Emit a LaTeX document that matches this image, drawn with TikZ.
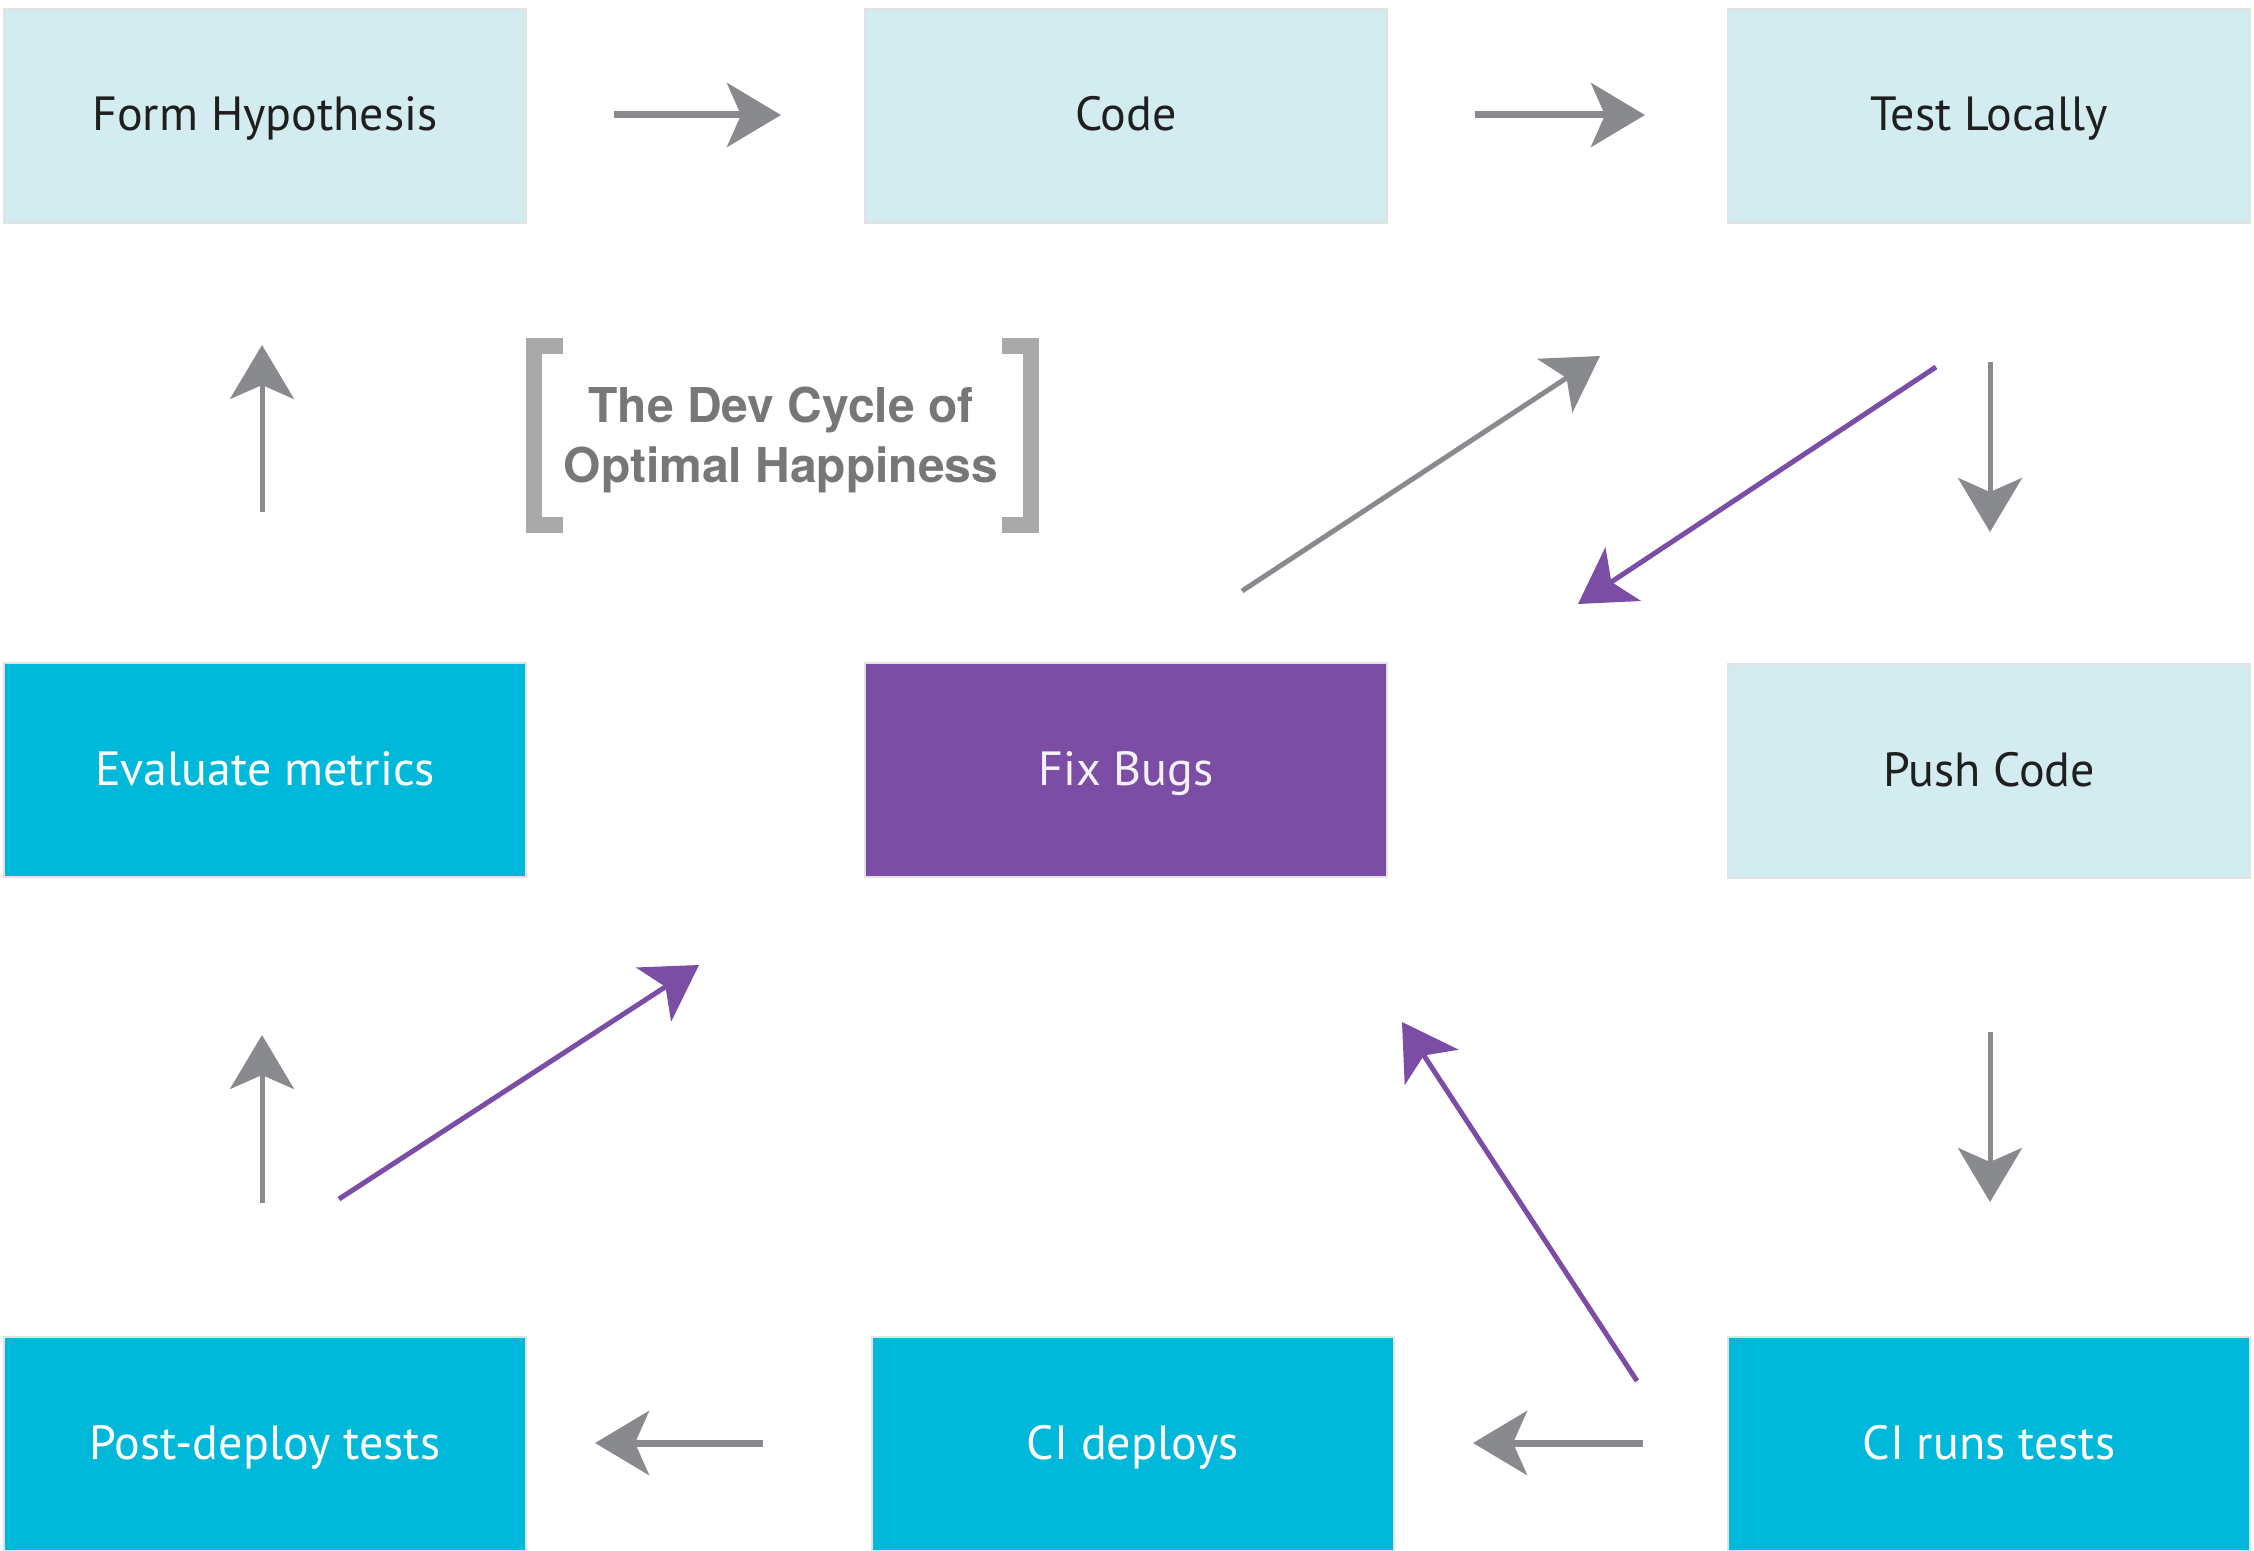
\documentclass[tikz,border=0pt]{standalone}
\usepackage{fontspec}
\setmainfont{PT Sans}
\newfontfamily\titlefont{TeX Gyre Heros}
\usetikzlibrary{arrows.meta}
\definecolor{lightfill}{HTML}{D2ECF0}
\definecolor{cyanfill}{HTML}{00B8DA}
\definecolor{purplefill}{HTML}{7B4DA4}
\definecolor{arrowgray}{HTML}{898A8D}
\definecolor{titlegray}{HTML}{777777}
\definecolor{bracketgray}{HTML}{A9A9A9}
\definecolor{edgegray}{HTML}{E2E2E2}
\tikzset{
  box/.style={rectangle, inner sep=0pt, minimum width=261pt, minimum height=107pt,
    text height=18pt, text depth=3pt,
    draw=edgegray, line width=1pt, font=\fontsize{24}{28}\selectfont},
  lightbox/.style={box, fill=lightfill, text=black!88},
  cyanbox/.style={box, fill=cyanfill, text=white},
  purplebox/.style={box, fill=purplefill, text=white!92!purplefill},
  tipshape/.style={-{Stealth[length=27pt,width=32pt,inset=7pt]}},
  harrow/.style={draw=arrowgray, line width=3.5pt, tipshape},
  varrow/.style={draw=arrowgray, line width=2.5pt, tipshape},
  darrow/.style={draw=arrowgray, line width=2.5pt, tipshape},
  parrow/.style={draw=purplefill, line width=2.5pt, tipshape},
  bracket/.style={draw=bracketgray, line width=8pt, miter limit=10},
  titletext/.style={align=center, text=titlegray,
    font=\titlefont\bfseries\fontsize{24}{30}\selectfont}
}
\begin{document}
\begin{tikzpicture}[x=0.5pt, y=-0.5pt]
\useasboundingbox (0,0) rectangle (2254,1551);
% boxes
\node[lightbox] (fh) at (265,116) {Form Hypothesis};
\node[lightbox] (code) at (1126,116) {Code};
\node[lightbox] (tl) at (1989,116) {Test Locally};
\node[cyanbox] (eval) at (265,770) {Evaluate metrics};
\node[purplebox] (fix) at (1126,770) {Fix Bugs};
\node[lightbox] (push) at (1989,771) {Push Code};
\node[cyanbox] (post) at (265,1444) {Post-deploy tests};
\node[cyanbox] (cid) at (1133,1444) {CI deploys};
\node[cyanbox] (cir) at (1989,1444) {CI runs tests};
% title
\node[titletext] (title) at (781,440) {The Dev Cycle of\\Optimal Happiness};
\draw[bracket] (563,346) -| (534,525) -- (563,525);
\draw[bracket] (1002,346) -| (1031,525) -- (1002,525);
% arrow end points
\coordinate (a1s) at (614,115);  \coordinate (a1e) at (781,115);
\coordinate (a2s) at (1475,115); \coordinate (a2e) at (1645,115);
\coordinate (a3s) at (1990,362); \coordinate (a3e) at (1990,532);
\coordinate (a4s) at (1990,1032); \coordinate (a4e) at (1990,1202);
\coordinate (a5s) at (1643,1443); \coordinate (a5e) at (1473,1443);
\coordinate (a6s) at (763,1443); \coordinate (a6e) at (595,1443);
\coordinate (a7s) at (262,1203); \coordinate (a7e) at (262,1035);
\coordinate (a8s) at (262,512); \coordinate (a8e) at (262,345);
\coordinate (p1s) at (339,1199); \coordinate (p1e) at (699,965);
\coordinate (p2s) at (1637,1381); \coordinate (p2e) at (1402,1022);
\coordinate (p3s) at (1936,367); \coordinate (p3e) at (1578,604);
\coordinate (g1s) at (1242,591); \coordinate (g1e) at (1600,356);
% arrows
\draw[harrow] (a1s) -- (a1e);
\draw[harrow] (a2s) -- (a2e);
\draw[varrow] (a3s) -- (a3e);
\draw[varrow] (a4s) -- (a4e);
\draw[harrow] (a5s) -- (a5e);
\draw[harrow] (a6s) -- (a6e);
\draw[varrow] (a7s) -- (a7e);
\draw[varrow] (a8s) -- (a8e);
\draw[parrow] (p1s) -- (p1e);
\draw[parrow] (p2s) -- (p2e);
\draw[parrow] (p3s) -- (p3e);
\draw[darrow] (g1s) -- (g1e);
\end{tikzpicture}
\end{document}
